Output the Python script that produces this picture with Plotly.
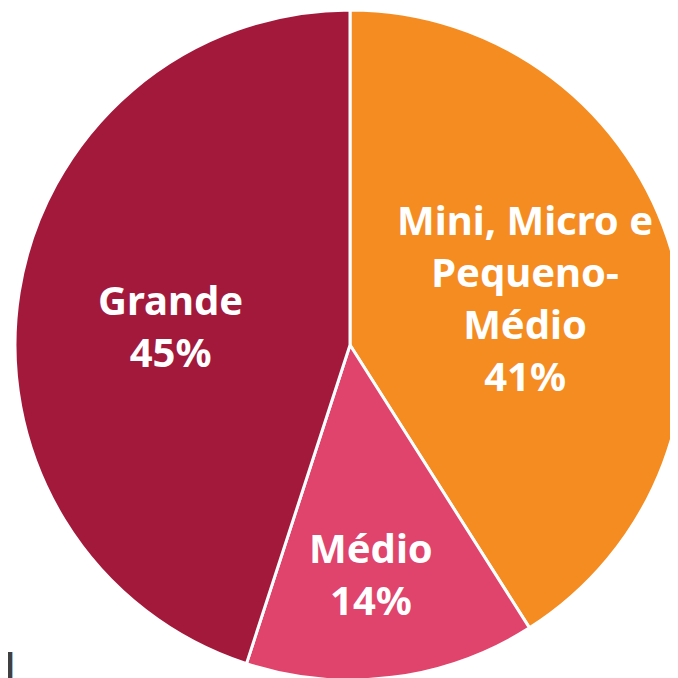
import plotly.graph_objects as go

labels = ["Mini, Micro e<br>Pequeno-<br>Médio", "Médio", "Grande"]
values = [41, 14, 45]
colors = ["#F58C21", "#E0436B", "#A3193C"]

# label centres in figure pixels (the page adds an 8px body margin)
label_pos = [(517, 290), (363, 565), (162, 317)]

W = 678
H = 678

fig = go.Figure(go.Pie(
    labels=labels,
    values=values,
    sort=False,
    direction="clockwise",
    rotation=0,
    marker=dict(colors=colors, line=dict(color="white", width=3)),
    textinfo="none",
    hoverinfo="skip",
    showlegend=False,
    domain=dict(x=[7 / W, 677 / W], y=[6 / H, 676 / H]),
))

for lab, val, (px_, py_) in zip(labels, values, label_pos):
    fig.add_annotation(
        text=f"{lab}<br>{val}%",
        x=px_ / W, y=1 - py_ / H,
        xref="paper", yref="paper",
        xanchor="center", yanchor="middle",
        showarrow=False,
        font=dict(family="Noto Sans", size=40, color="white", weight="bold"),
    )

# fragment of a word cut off at the bottom-left corner
fig.add_annotation(
    text="al",
    x=9 / W, y=1 - 658 / H,
    xref="paper", yref="paper",
    xanchor="right", yanchor="middle",
    showarrow=False,
    font=dict(family="Noto Sans", size=38, color="#404040", weight="bold"),
)

fig.update_layout(
    width=W,
    height=H,
    margin=dict(l=0, r=0, t=0, b=0),
    paper_bgcolor="white",
    plot_bgcolor="white",
)

fig.write_html("out.html")
